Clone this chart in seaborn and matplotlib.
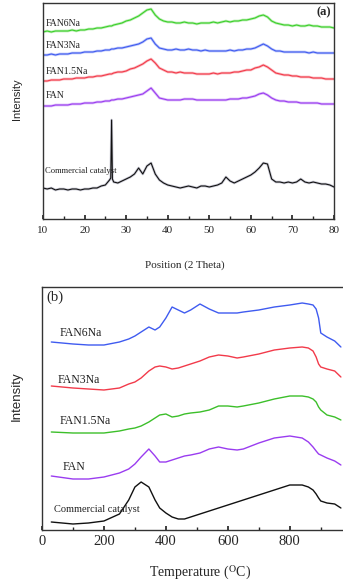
import matplotlib
matplotlib.use("Agg")
import matplotlib.pyplot as plt
from matplotlib.ticker import AutoMinorLocator, MultipleLocator
import seaborn as sns

sns.set_theme(style="ticks")
plt.rcParams["font.family"] = ["Liberation Serif", "DejaVu Serif"]
plt.rcParams["mathtext.fontset"] = "stix"

# colours differ between the two panels
COLORS_A = {
    "FAN6Na": "#3ccf2a",
    "FAN3Na": "#3f5bf0",
    "FAN1.5Na": "#f23a4a",
    "FAN": "#9a3cf0",
    "Commercial catalyst": "#111111",
}
COLORS_B = {
    "FAN6Na": "#3f5bf0",
    "FAN3Na": "#f23a4a",
    "FAN1.5Na": "#3cbf2a",
    "FAN": "#9a3cf0",
    "Commercial catalyst": "#111111",
}

# ── (a) XRD, 2 theta ────────────────────────────────────────────────────────
tth = list(range(10, 27)) + [26.5] + list(range(27, 81))
xrd_fan6 = [187, 188, 187, 188, 188, 188, 188, 189, 188, 189, 189, 190, 190, 191, 191, 192, 193,
            193, 194, 195, 196, 198, 199, 201, 203, 206, 209, 210, 204, 200, 198, 197, 197, 196,
            196, 197, 196, 196, 195, 196, 196, 196, 197, 196, 197, 198, 197, 198, 198, 199, 199,
            200, 201, 203, 204, 202, 198, 196, 195, 194, 194, 193, 194, 193, 193, 194, 193, 193,
            192, 192, 192, 191]
xrd_fan3 = [164, 164, 165, 164, 165, 165, 165, 166, 166, 166, 167, 167, 167, 168, 168, 169, 169,
            170, 170, 171, 171, 172, 173, 174, 175, 177, 180, 181, 175, 171, 170, 169, 169, 170,
            169, 169, 170, 169, 169, 168, 169, 168, 168, 168, 168, 168, 169, 168, 169, 169, 170,
            170, 171, 173, 175, 173, 170, 168, 168, 167, 167, 167, 167, 167, 167, 166, 167, 166,
            166, 166, 166, 166]
xrd_fan15 = [138, 138, 139, 139, 139, 140, 140, 140, 141, 141, 141, 142, 142, 143, 143, 144, 145,
             145, 146, 147, 147, 148, 150, 151, 153, 155, 158, 160, 156, 151, 149, 147, 147, 146,
             147, 146, 146, 146, 145, 145, 145, 145, 146, 145, 146, 146, 146, 147, 147, 148, 149,
             149, 151, 152, 154, 152, 149, 146, 145, 144, 144, 143, 143, 142, 142, 142, 141, 141,
             141, 140, 140, 140]
xrd_fan = [113, 113, 113, 114, 114, 114, 114, 115, 115, 115, 116, 116, 116, 117, 117, 118, 118,
           119, 119, 120, 120, 121, 122, 123, 124, 125, 128, 131, 126, 121, 120, 119, 119, 119,
           119, 120, 120, 120, 119, 119, 119, 119, 119, 119, 119, 119, 120, 120, 120, 121, 121,
           122, 123, 125, 126, 124, 121, 119, 118, 118, 117, 117, 117, 116, 116, 116, 116, 116,
           115, 115, 115, 115]
tth_com = list(range(10, 27)) + [26.3, 26.5, 26.7] + list(range(27, 81))
xrd_com = [31, 30, 31, 29, 30, 30, 29, 30, 30, 29, 30, 30, 31, 31, 33, 34, 39,
           41, 99, 40, 37, 36, 38, 40, 42, 45, 51, 45, 53, 56, 45, 39, 36, 34, 33, 32,
           31, 32, 33, 32, 31, 33, 33, 32, 33, 34, 36, 42, 38, 36, 38, 40, 42, 44, 47,
           51, 56, 55, 40, 37, 37, 36, 37, 36, 37, 40, 37, 36, 37, 36, 35, 35, 34, 32]

# ── (b) TPR, temperature ────────────────────────────────────────────────────
temp = [30, 100, 150, 200, 250, 280, 300, 320, 345, 365, 380, 400, 420, 440, 460, 480, 510,
        540, 570, 600, 630, 650, 700, 750, 800, 840, 860, 875, 885, 893, 900, 920, 945, 965]
tpr_fan6 = [188, 186, 185, 185, 188, 191, 194, 198, 203, 200, 203, 212, 223, 220, 217, 220, 226,
            221, 217, 217, 217, 218, 220, 223, 225, 227, 226, 225, 221, 212, 197, 193, 189, 183]
tpr_fan3 = [144, 142, 141, 140, 142, 146, 148, 152, 159, 163, 164, 163, 161, 162, 164, 166, 169,
            173, 175, 174, 172, 173, 176, 180, 182, 183, 182, 179, 173, 166, 163, 161, 159, 153]
tpr_fan15 = [98, 97, 97, 97, 99, 101, 102, 104, 108, 112, 115, 116, 113, 114, 116, 117, 118,
             120, 124, 124, 123, 124, 127, 131, 134, 134, 133, 131, 128, 123, 120, 115, 113, 110]
tpr_fan = [54, 51, 51, 53, 57, 61, 66, 73, 81, 74, 68, 68, 70, 72, 74, 75, 77,
           81, 83, 81, 80, 81, 87, 92, 94, 92, 88, 83, 79, 76, 75, 72, 69, 65]
tpr_com = [8, 6, 7, 9, 16, 30, 43, 48, 43, 30, 22, 17, 13, 11, 11, 13, 16,
           19, 22, 25, 28, 30, 35, 40, 45, 45, 43, 40, 36, 32, 29, 27, 26, 22]

W, H = 343, 583
fig = plt.figure(figsize=(W / 100, H / 100), dpi=100)
ax_a = fig.add_axes([43 / W, 1 - 219 / H, 291 / W, 216 / H])
ax_b = fig.add_axes([42 / W, 1 - 530 / H, 302 / W, 243 / H])

# panel (a)
xrd = [
    ("FAN6Na", tth, xrd_fan6, 196),
    ("FAN3Na", tth, xrd_fan3, 173),
    ("FAN1.5Na", tth, xrd_fan15, 148),
    ("FAN", tth, xrd_fan, 124),
    ("Commercial catalyst", tth_com, xrd_com, 48),
]
for name, x, y, ly in xrd:
    c = COLORS_A[name]
    halo = "#6a6a8a" if name == "Commercial catalyst" else c
    sns.lineplot(x=x, y=y, ax=ax_a, color=halo, linewidth=1.9, alpha=0.35, sort=False)
    sns.lineplot(x=x, y=y, ax=ax_a, color=c, linewidth=0.8, sort=False)
    fs = 6.2 if name == "Commercial catalyst" else 7
    ax_a.text(10.6, ly, name, fontsize=fs, ha="left", va="center", color="#222222")

ax_a.text(77.6, 207, "(a)", fontsize=9, fontweight="bold", ha="center", va="center")
ax_a.set_xlim(10, 80)
ax_a.set_ylim(0, 216)
ax_a.xaxis.set_major_locator(MultipleLocator(10))
ax_a.xaxis.set_minor_locator(AutoMinorLocator(2))
ax_a.set_yticks([])
ax_a.tick_params(axis="x", which="both", direction="in", labelsize=8, pad=5)
ax_a.tick_params(axis="x", which="major", length=3)
ax_a.tick_params(axis="x", which="minor", length=2)
ax_a.set_xlabel("Position (2 Theta)", fontsize=8)
ax_a.xaxis.set_label_coords(0.488, -0.19)
ax_a.set_ylabel("Intensity", fontsize=8, family=["Liberation Sans", "DejaVu Sans"])
ax_a.yaxis.set_label_coords(-0.072, 0.556)

# panel (b)
tpr = [
    ("FAN6Na", tpr_fan6, 58, 197),
    ("FAN3Na", tpr_fan3, 52, 150),
    ("FAN1.5Na", tpr_fan15, 58, 109),
    ("FAN", tpr_fan, 65, 63),
    ("Commercial catalyst", tpr_com, 39, 20),
]
for name, y, lx, ly in tpr:
    sns.lineplot(x=temp, y=y, ax=ax_b, color=COLORS_B[name], linewidth=1.0, sort=False)
    fs = 7.5 if name == "Commercial catalyst" else 8.5
    ax_b.text(lx, ly, name, fontsize=fs, ha="left", va="center", color="#222222")

ax_b.text(13, 233, "(b)", fontsize=10.5, ha="left", va="center")
ax_b.set_xlim(0, 975)
ax_b.set_ylim(0, 243)
ax_b.xaxis.set_major_locator(MultipleLocator(200))
ax_b.xaxis.set_minor_locator(AutoMinorLocator(2))
ax_b.set_yticks([])
ax_b.tick_params(axis="x", which="both", direction="in", labelsize=10.5, pad=3.5)
ax_b.tick_params(axis="x", which="major", length=3)
ax_b.tick_params(axis="x", which="minor", length=2)
ax_b.set_xlabel(r"Temperature ($^{\mathrm{O}}$C)", fontsize=10)
ax_b.xaxis.set_label_coords(0.523, -0.14)
ax_b.set_ylabel("Intensity", fontsize=9.5, family=["Liberation Sans", "DejaVu Sans"])
ax_b.yaxis.set_label_coords(-0.063, 0.55)

for ax in (ax_a, ax_b):
    for sp in ax.spines.values():
        sp.set_linewidth(1.0)
        sp.set_color("#333333")

fig.savefig("out.png", dpi=100)
